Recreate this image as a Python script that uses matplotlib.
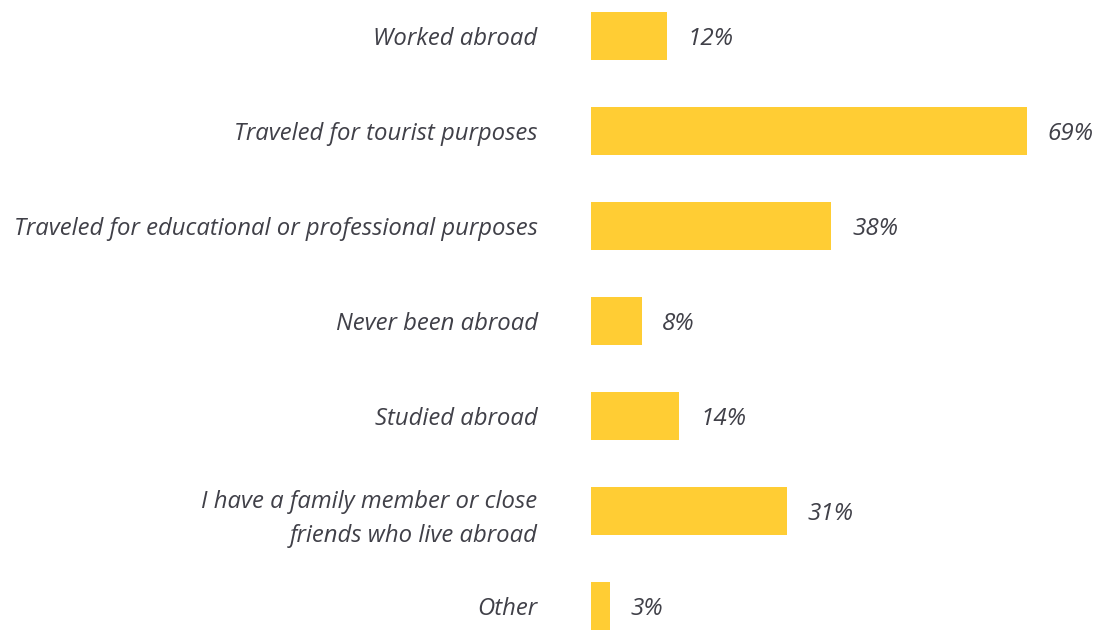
import matplotlib
matplotlib.use("Agg")
import matplotlib.pyplot as plt

categories = [
    "Worked abroad",
    "Traveled for tourist purposes",
    "Traveled for educational or professional purposes",
    "Never been abroad",
    "Studied abroad",
    "I have a family member or close\nfriends who live abroad",
    "Other",
]
values = [12, 69, 38, 8, 14, 31, 3]
value_labels = ["12%", "69%", "38%", "8%", "14%", "31%", "3%"]

BAR = "#FFCD34"
TEXT = "#404048"
FONT = ["Open Sans", "DejaVu Sans"]

fig = plt.figure(figsize=(11.04, 6.30), dpi=100)
ax = fig.add_axes([591 / 1104, 0, 1 - 591 / 1104, 1])
ypos = list(range(len(categories)))
ax.barh(ypos, values, height=0.505, color=BAR)
ax.set_xlim(0, (1104 - 591) / 6.32)
ax.set_ylim(6 + 24 / 95, -36 / 95)

ax.set_yticks(ypos)
ax.set_yticklabels(categories, fontsize=17.2, style="italic", family=FONT,
                   color=TEXT, ha="right",
                   multialignment="right", linespacing=1.55)
ax.tick_params(axis="y", length=0, pad=38.5)
ax.set_xticks([])
for s in ax.spines.values():
    s.set_visible(False)

for y, v, lab in zip(ypos, values, value_labels):
    ax.annotate(lab, (v, y), xytext=(15, -2), textcoords="offset points",
                ha="left", va="center", fontsize=17.5, style="italic",
                family=FONT, color=TEXT)

fig.savefig("out.png", dpi=100)
